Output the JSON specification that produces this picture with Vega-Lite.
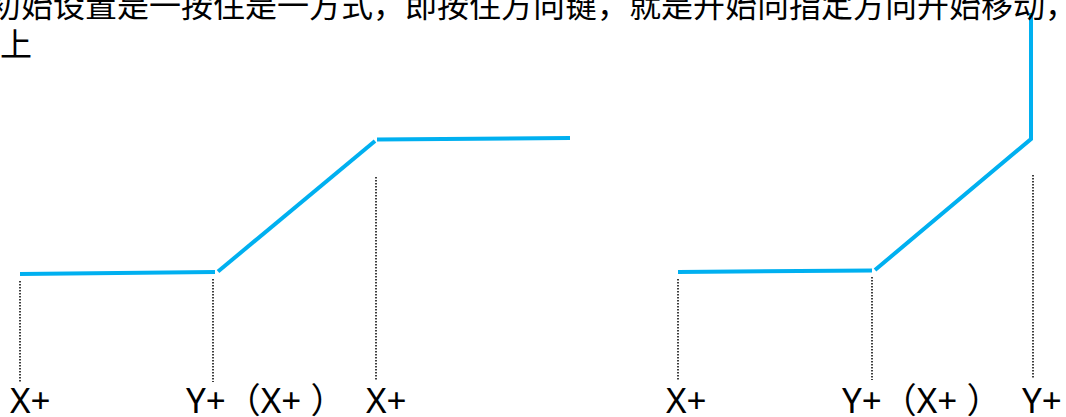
{
  "$schema": "https://vega.github.io/schema/vega-lite/v6.json",
  "width": 1066,
  "height": 417,
  "autosize": "none",
  "padding": 0,
  "background": "white",
  "config": {"view": {"stroke": null}},
  "datasets": {
    "paths": [
      {"seg": "a", "ord": 1, "x": 20, "y": 274},
      {"seg": "a", "ord": 2, "x": 215, "y": 272},
      {"seg": "b", "ord": 1, "x": 218, "y": 271.5},
      {"seg": "b", "ord": 2, "x": 375, "y": 141},
      {"seg": "c", "ord": 1, "x": 377, "y": 139.5},
      {"seg": "c", "ord": 2, "x": 570, "y": 138},
      {"seg": "d", "ord": 1, "x": 678, "y": 272},
      {"seg": "d", "ord": 2, "x": 872, "y": 270.5},
      {"seg": "e", "ord": 1, "x": 875, "y": 270},
      {"seg": "e", "ord": 2, "x": 1031, "y": 139},
      {"seg": "e", "ord": 3, "x": 1031, "y": 13}
    ],
    "guides": [
      {"x": 20, "y1": 281, "y2": 382},
      {"x": 213, "y1": 279, "y2": 382},
      {"x": 376, "y1": 177, "y2": 380},
      {"x": 678, "y1": 279, "y2": 380},
      {"x": 872, "y1": 277, "y2": 380},
      {"x": 1033, "y1": 175, "y2": 378}
    ],
    "labels": [
      {"x": 10, "y": 413, "t": "X+"},
      {"x": 186, "y": 413, "t": "Y+（X+ ）"},
      {"x": 366, "y": 413, "t": "X+"},
      {"x": 666, "y": 413, "t": "X+"},
      {"x": 842, "y": 413, "t": "Y+（X+ ）"},
      {"x": 1022, "y": 413, "t": "Y+"}
    ],
    "heading": [
      {"x": -11, "y": 17, "t": "初始设置是一按住是一方式，即按住方向键，就是开始向指定方向开始移动，从"},
      {"x": 0, "y": 55.5, "t": "上"}
    ]
  },
  "layer": [
    {
      "data": {"name": "guides"},
      "mark": {"type": "rule", "color": "#000000", "strokeWidth": 1.5, "strokeDash": [1.5, 1.5]},
      "encoding": {
        "x": {"field": "x", "type": "quantitative", "scale": {"domain": [0, 1066], "nice": false, "zero": false}, "axis": null},
        "y": {"field": "y1", "type": "quantitative", "scale": {"domain": [0, 417], "reverse": true, "nice": false, "zero": false}, "axis": null},
        "y2": {"field": "y2"}
      }
    },
    {
      "data": {"name": "paths"},
      "mark": {"type": "line", "color": "#00B0F0", "strokeWidth": 4, "strokeCap": "butt", "strokeJoin": "miter"},
      "encoding": {
        "x": {"field": "x", "type": "quantitative", "scale": {"domain": [0, 1066], "nice": false, "zero": false}, "axis": null},
        "y": {"field": "y", "type": "quantitative", "scale": {"domain": [0, 417], "reverse": true, "nice": false, "zero": false}, "axis": null},
        "detail": {"field": "seg"},
        "order": {"field": "ord"}
      }
    },
    {
      "data": {"name": "labels"},
      "mark": {"type": "text", "align": "left", "baseline": "alphabetic", "font": "Noto Sans, Noto Sans CJK SC", "fontSize": 35, "color": "#000000"},
      "encoding": {
        "x": {"field": "x", "type": "quantitative", "scale": {"domain": [0, 1066], "nice": false, "zero": false}, "axis": null},
        "y": {"field": "y", "type": "quantitative", "scale": {"domain": [0, 417], "reverse": true, "nice": false, "zero": false}, "axis": null},
        "text": {"field": "t"}
      }
    },
    {
      "data": {"name": "heading"},
      "mark": {"type": "text", "align": "left", "baseline": "alphabetic", "font": "Noto Sans CJK SC", "fontSize": 32, "color": "#000000"},
      "encoding": {
        "x": {"field": "x", "type": "quantitative", "scale": {"domain": [0, 1066], "nice": false, "zero": false}, "axis": null},
        "y": {"field": "y", "type": "quantitative", "scale": {"domain": [0, 417], "reverse": true, "nice": false, "zero": false}, "axis": null},
        "text": {"field": "t"}
      }
    }
  ]
}
